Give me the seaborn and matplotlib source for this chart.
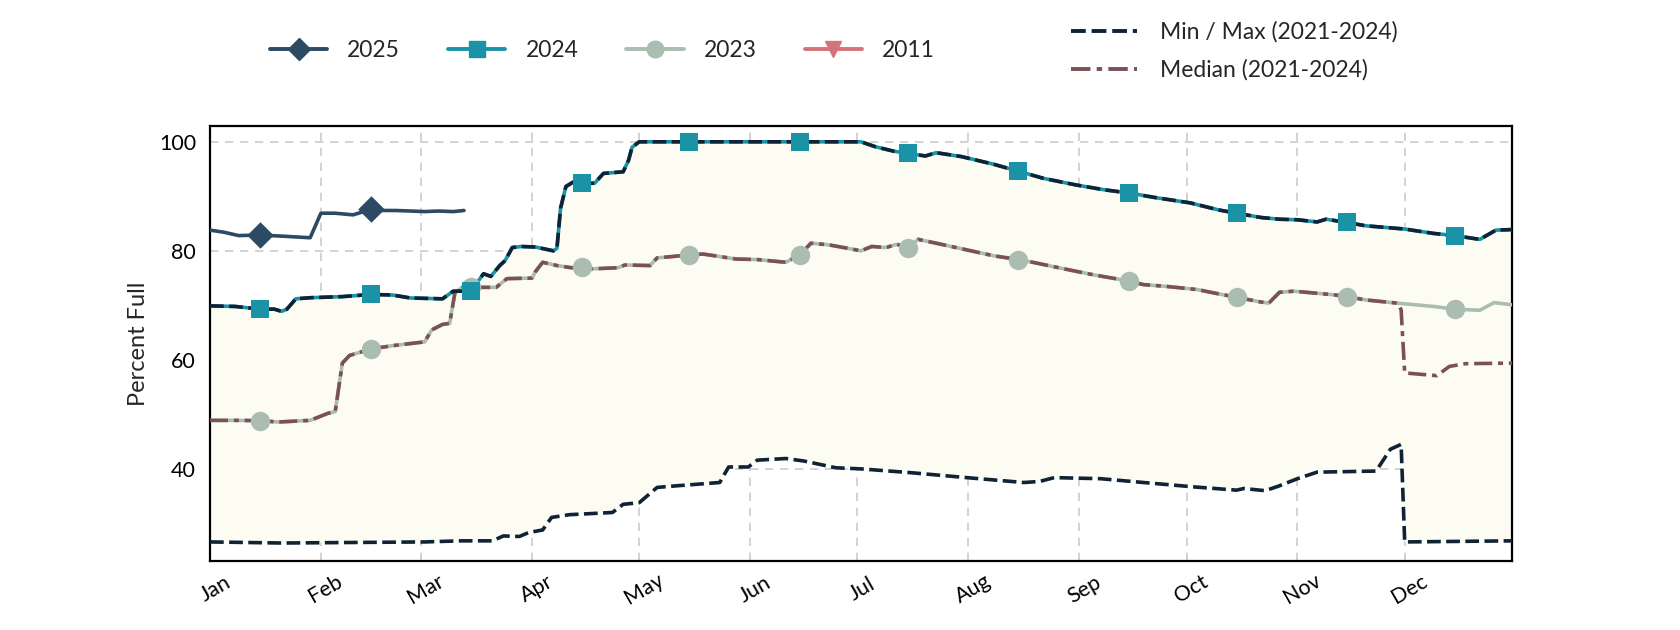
import numpy as np
import matplotlib
matplotlib.use("Agg")
import matplotlib.pyplot as plt
from matplotlib.lines import Line2D
import seaborn as sns

# day of year (0 = Jan 1) and percent full
d2025 = [0, 4, 8, 14, 20, 28, 31, 35, 40, 45, 48, 52, 56, 60, 64, 68, 71]
v2025 = [83.8, 83.4, 82.8, 82.9, 82.7, 82.4, 86.9, 86.9, 86.6, 87.6, 87.4, 87.4, 87.3, 87.2, 87.3, 87.2, 87.4]

d2024 = [0, 7, 14, 18, 20, 21.5, 24, 28, 37, 45, 51, 56, 65, 68, 73, 75, 76.5, 78.5, 81, 82.5, 84.5, 87,
         91, 96, 97, 98, 99.5, 101.5, 104, 107.5, 110, 115.5, 117, 118, 120, 134, 165, 182, 186, 191, 195,
         200, 203, 210, 219, 226, 233, 242, 250, 257, 264, 274, 282, 287, 294, 299, 304, 309.5, 312, 318,
         323, 334, 342, 348, 355, 359.5, 364]
v2024 = [69.9, 69.8, 69.3, 69.3, 68.9, 69.3, 71.2, 71.4, 71.6, 72.0, 71.9, 71.35, 71.2, 72.6, 72.6, 74.5,
         75.8, 75.3, 77.3, 78.2, 80.6, 80.8, 80.7, 80.0, 80.5, 87.8, 91.8, 92.6, 92.4, 92.4, 94.2, 94.5,
         96.6, 99.0, 100, 100, 100, 100, 99.1, 98.3, 97.9, 97.4, 98.0, 97.3, 95.9, 94.6, 93.3, 92.1, 91.2,
         90.6, 89.8, 88.8, 87.5, 86.9, 86.1, 85.8, 85.7, 85.3, 85.8, 85.2, 84.6, 84.0, 83.2, 82.8, 82.1,
         83.8, 83.9]

d2023 = [0, 7, 14, 19, 28, 33, 35, 37, 39, 45, 51, 60, 62, 65, 67, 68.5, 71, 73, 80, 83, 90, 91, 93, 97,
         101, 104, 107, 114, 116, 123, 125, 130, 134, 138, 147, 153, 161, 165, 168, 173, 178, 182, 185,
         189, 192, 195, 198, 203, 210, 219, 226, 230, 238, 247, 254, 257, 261, 267, 276, 282, 287, 293,
         296, 299, 303, 314, 318, 323, 332, 342, 348, 355, 359, 364]
v2023 = [48.9, 48.9, 48.85, 48.6, 48.9, 50.2, 50.5, 59.4, 60.8, 62.0, 62.6, 63.3, 65.5, 66.5, 66.7, 72.4,
         73.5, 73.3, 73.3, 74.9, 75.0, 76.2, 77.9, 77.3, 76.9, 76.95, 76.7, 76.9, 77.4, 77.3, 78.7, 79.0,
         79.3, 79.4, 78.5, 78.4, 77.9, 79.3, 81.4, 81.1, 80.5, 80.0, 80.8, 80.6, 81.2, 80.6, 82.1, 81.4,
         80.4, 79.1, 78.4, 77.9, 76.8, 75.6, 74.8, 74.4, 73.8, 73.5, 72.9, 72.1, 71.5, 70.7, 70.4, 72.4,
         72.6, 71.95, 71.6, 71.0, 70.4, 69.8, 69.3, 69.1, 70.5, 70.1]

# 2011 is listed in the legend but has no visible line
d2011 = []
v2011 = []

# statistics 2021-2024 (the max follows 2024 all year)
max_days = d2024
max_vals = v2024

min_days = [0, 20, 40, 60, 70, 79, 82, 86.5, 89, 93, 95.5, 100.5, 112.5, 115.5, 120, 125, 130.5, 142.5,
            145, 150.5, 153, 161, 166, 175, 182, 196, 211.5, 227.5, 232, 236, 249, 261, 275, 287, 289,
            295, 299, 304, 309.5, 326, 330, 333, 334, 364]
min_vals = [26.6, 26.4, 26.5, 26.6, 26.8, 26.8, 27.7, 27.6, 28.3, 28.8, 31.1, 31.6, 32.0, 33.5, 33.8,
            36.6, 36.9, 37.5, 40.35, 40.35, 41.6, 41.9, 41.45, 40.2, 40.0, 39.3, 38.4, 37.5, 37.7, 38.4,
            38.2, 37.5, 36.7, 36.1, 36.4, 36.0, 36.9, 38.2, 39.4, 39.6, 43.6, 44.5, 26.6, 26.8]

med_days = [0, 7, 14, 19, 28, 33, 35, 37, 39, 45, 51, 60, 62, 65, 67, 68.5, 71, 73, 80, 83, 90, 91, 93, 97,
            101, 104, 107, 114, 116, 123, 125, 130, 134, 138, 147, 153, 161, 165, 168, 173, 178, 182, 185,
            189, 192, 195, 198, 203, 210, 219, 226, 230, 238, 247, 254, 257, 261, 267, 276, 282, 287, 293,
            296, 299, 303, 314, 318, 323, 332, 333, 334, 343, 346.5, 351, 364]
med_vals = [48.9, 48.9, 48.85, 48.6, 48.9, 50.2, 50.5, 59.4, 60.8, 62.0, 62.6, 63.3, 65.5, 66.5, 66.7,
            72.4, 73.5, 73.3, 73.3, 74.9, 75.0, 76.2, 77.9, 77.3, 76.9, 76.95, 76.7, 76.9, 77.4, 77.3,
            78.7, 79.0, 79.3, 79.4, 78.5, 78.4, 77.9, 79.3, 81.4, 81.1, 80.5, 80.0, 80.8, 80.6, 81.2,
            80.6, 82.1, 81.4, 80.4, 79.1, 78.4, 77.9, 76.8, 75.6, 74.8, 74.4, 73.8, 73.5, 72.9, 72.1,
            71.5, 70.7, 70.4, 72.4, 72.6, 71.95, 71.6, 71.0, 70.4, 69.2, 57.6, 57.1, 58.8, 59.3, 59.4]

month_starts = [0, 31, 59, 90, 120, 151, 181, 212, 243, 273, 304, 334]
month_labels = ["Jan", "Feb", "Mar", "Apr", "May", "Jun", "Jul", "Aug", "Sep", "Oct", "Nov", "Dec"]
mid_month = [14, 45, 73, 104, 134, 165, 195, 226, 257, 287, 318, 348]

c2025 = "#2C4A63"
c2024 = "#1A93A6"
c2023 = "#ABBDB1"
c2011 = "#D6727A"
c_minmax = "#0F2236"
c_median = "#7B5157"
c_fill = "#FCFCF2"

minmax_dash = (3.8, 1.5)
median_dash = (5, 1.6, 1.4, 1.6)

sns.set_style("ticks")
plt.rcParams["font.family"] = ["Lato", "DejaVu Sans"]

fig, ax = plt.subplots(figsize=(16.8, 6.3), dpi=100)
fig.subplots_adjust(left=0.125, right=0.9, top=0.8, bottom=0.1095)

# shaded band between min and max
ax.fill(list(max_days) + min_days[::-1], list(max_vals) + min_vals[::-1],
        color=c_fill, lw=0, zorder=1)

# year lines
sns.lineplot(x=d2023, y=v2023, ax=ax, color=c2023, lw=2.6, zorder=3)
sns.lineplot(x=d2024, y=v2024, ax=ax, color=c2024, lw=2.6, zorder=3)
sns.lineplot(x=d2025, y=v2025, ax=ax, color=c2025, lw=2.6, zorder=3)

# statistics lines on top
sns.lineplot(x=med_days, y=med_vals, ax=ax, color=c_median, lw=2.6, zorder=4)
ax.lines[-1].set_dashes(median_dash)
sns.lineplot(x=max_days, y=max_vals, ax=ax, color=c_minmax, lw=2.6, zorder=4)
ax.lines[-1].set_dashes(minmax_dash)
sns.lineplot(x=min_days, y=min_vals, ax=ax, color=c_minmax, lw=2.6, zorder=4)
ax.lines[-1].set_dashes(minmax_dash)

# mid-month markers
def marks(days, vals):
    pts = [(d, v) for d, v in zip(days, vals) if d in mid_month]
    return [p[0] for p in pts], [p[1] for p in pts]

mx, my = marks(d2023, v2023)
sns.scatterplot(x=mx, y=my, ax=ax, marker="o", s=14 ** 2, color=c2023, linewidth=0, zorder=5)
mx, my = marks(d2024, v2024)
sns.scatterplot(x=mx, y=my, ax=ax, marker="s", s=13 ** 2, color=c2024, linewidth=0, zorder=6)
mx, my = marks(d2025, v2025)
sns.scatterplot(x=mx, y=my, ax=ax, marker="D", s=13.5 ** 2, color=c2025, linewidth=0, zorder=7)

ax.set_xlim(0, 364)
ax.set_ylim(23.1, 102.9)
ax.set_yticks([40, 60, 80, 100])
ax.set_xticks(month_starts)
ax.set_xticklabels(month_labels, rotation=30, ha="center", rotation_mode="anchor", va="top")
ax.tick_params(axis="both", length=0, labelsize=15.5, colors="black")
ax.tick_params(axis="x", pad=14)
ax.tick_params(axis="y", pad=10)
ax.set_xlabel("")
ax.set_ylabel("Percent Full", fontsize=17)
ax.yaxis.set_label_coords(-0.047, 0.5)

ax.grid(True, color="#CCCCCC", ls=(0, (5, 4)), lw=1.2, zorder=0)
ax.set_axisbelow(True)
for sp in ax.spines.values():
    sp.set_visible(True)
    sp.set_color("black")
    sp.set_linewidth(1.6)

year_handles = [
    Line2D([], [], color=c2025, lw=2.8, marker="D", ms=11),
    Line2D([], [], color=c2024, lw=2.8, marker="s", ms=11),
    Line2D([], [], color=c2023, lw=2.8, marker="o", ms=12),
    Line2D([], [], color=c2011, lw=2.8, marker="v", ms=12),
]
fig.legend(year_handles, ["2025", "2024", "2023", "2011"], loc="center left",
           bbox_to_anchor=(0.1607, 0.9195), ncol=4, frameon=False, fontsize=16.5,
           borderpad=0, borderaxespad=0, handlelength=2.5, handletextpad=0.87,
           columnspacing=2.1)

stat_handles = [
    Line2D([], [], color=c_minmax, lw=2.8, dashes=minmax_dash),
    Line2D([], [], color=c_median, lw=2.8, dashes=median_dash),
]
fig.legend(stat_handles, ["Min / Max (2021-2024)", "Median (2021-2024)"], loc="center left",
           bbox_to_anchor=(0.6375, 0.919), ncol=1, frameon=False, fontsize=16.5,
           borderpad=0, borderaxespad=0, handlelength=2.88, handletextpad=1.0,
           labelspacing=0.71)

fig.savefig("out.png", dpi=100)
